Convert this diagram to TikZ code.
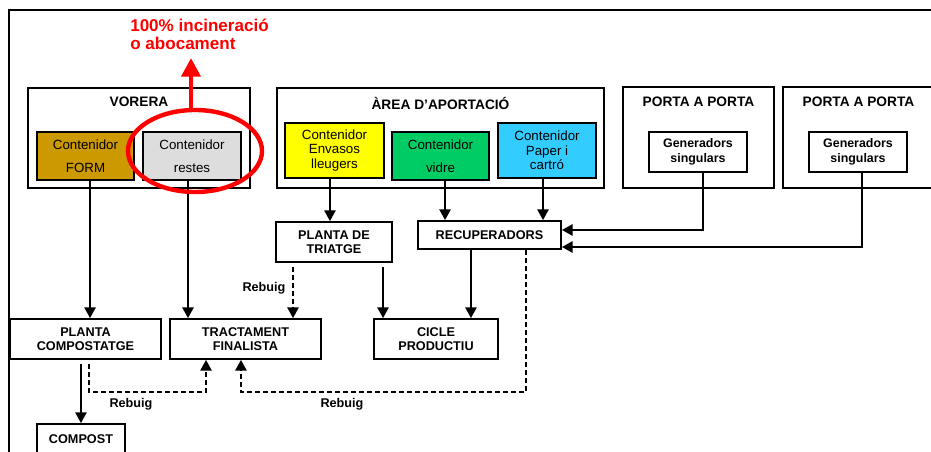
\documentclass[tikz,border=0pt]{standalone}
\usepackage{fontspec}
\setmainfont{Liberation Sans}
\usetikzlibrary{arrows.meta,shapes.geometric}
\definecolor{formc}{HTML}{CC9900}
\definecolor{restc}{HTML}{DDDDDD}
\definecolor{envc}{HTML}{FFFF00}
\definecolor{vidc}{HTML}{00CC66}
\definecolor{papc}{HTML}{33CCFF}
\definecolor{redc}{HTML}{FF0000}
\begin{document}
\begin{tikzpicture}[x=0.75pt,y=-0.75pt,
  box/.style={draw, line width=1.4pt, inner sep=0pt, align=center},
  ttl/.style={inner sep=0pt, font=\fontsize{10.3}{12}\selectfont\bfseries},
  cont/.style={box, font=\fontsize{10}{17.25}\selectfont},
  cont3/.style={box, font=\fontsize{10}{10.9}\selectfont},
  gen/.style={box, font=\fontsize{9.3}{11.25}\selectfont\bfseries},
  plant/.style={box, font=\fontsize{9.5}{10.5}\selectfont\bfseries},
  conn/.style={line width=1.1pt, -{Triangle[length=8pt,width=8.5pt]}},
  dconn/.style={conn, dash pattern=on 3.5pt off 2.5pt},
  reb/.style={inner sep=0pt, font=\fontsize{9.5}{11}\selectfont\bfseries}]
\useasboundingbox (0,0) rectangle (931,452);
% outer frame
\draw[line width=1.5pt] (9,1000) -- (9,10) -- (1000,10);
% VORERA
\node[box, minimum width=166.5pt, minimum height=75pt] (vorera) at (139,138) {};
\node[ttl] (voreratt) at (139,102) {VORERA};
\node[cont, fill=formc, minimum width=72.75pt, minimum height=36pt] (form) at (85.5,156) {Contenidor\\FORM};
\node[cont, fill=restc, minimum width=73.5pt, minimum height=36pt] (restes) at (192,156) {Contenidor\\restes};
% AREA
\node[box, minimum width=245.25pt, minimum height=75pt] (area) at (440.5,138) {};
\node[ttl] (areatt) at (440.5,103) {ÀREA D’APORTACIÓ};
\node[cont3, fill=envc, minimum width=74.25pt, minimum height=41.25pt] (envasos) at (334.5,150.5) {Contenidor\\Envasos\\lleugers};
\node[cont, fill=vidc, minimum width=72.75pt, minimum height=36pt] (vidre) at (440.5,156) {Contenidor\\vidre};
\node[cont3, fill=papc, minimum width=73.5pt, minimum height=41.25pt] (paper) at (547,150.5) {Contenidor\\Paper i\\cartró};
% PORTA A PORTA
\node[box, minimum width=113.25pt, minimum height=75.75pt] (porta1) at (698.5,137.5) {};
\node[ttl] (porta1tt) at (698.5,102) {PORTA A PORTA};
\node[gen, minimum width=73.5pt, minimum height=30pt] (gen1) at (698,152) {Generadors\\singulars};
\node[box, minimum width=113.25pt, minimum height=75.75pt] (porta2) at (858.5,137.5) {};
\node[ttl] (porta2tt) at (858.5,102) {PORTA A PORTA};
\node[gen, minimum width=73.5pt, minimum height=30pt] (gen2) at (858,152) {Generadors\\singulars};
% plants
\node[plant, minimum width=87pt, minimum height=30pt] (triatge) at (334,242) {PLANTA DE\\TRIATGE};
\node[plant, minimum width=107.25pt, minimum height=21pt] (recup) at (489.5,235) {RECUPERADORS};
\node[plant, minimum width=93pt, minimum height=30pt] (cicle) at (436,339) {CICLE\\PRODUCTIU};
\node[plant, minimum width=113.25pt, minimum height=30pt] (tract) at (245.5,339) {TRACTAMENT\\FINALISTA};
\node[plant, minimum width=113.25pt, minimum height=30pt] (compostatge) at (85.5,339) {PLANTA\\COMPOSTATGE};
\node[plant, minimum width=66pt, minimum height=22.5pt] (compost) at (81,439) {COMPOST};
% connectors
\draw[conn] ([xshift=3.4pt]form.south) -- ([xshift=3.4pt]form.south |- compostatge.north);
\draw[conn] ([xshift=-3pt]restes.south) -- ([xshift=-3pt]restes.south |- tract.north);
\draw[conn] ([xshift=-3.4pt]envasos.south) -- ([xshift=-3.4pt]envasos.south |- triatge.north);
\draw[conn] ([xshift=3.4pt]vidre.south) -- ([xshift=3.4pt]vidre.south |- recup.north);
\draw[conn] ([xshift=-3pt]paper.south) -- ([xshift=-3pt]paper.south |- recup.north);
\draw[conn] ([xshift=3.75pt]gen1.south) |- ([yshift=3.75pt]recup.east);
\draw[conn] ([xshift=3pt]gen2.south) |- ([yshift=-9pt]recup.east);
\draw[conn, shorten <=3pt] ([xshift=36.75pt]triatge.south) -- ([xshift=36.75pt]triatge.south |- cicle.north);
\draw[conn] ([xshift=-13.9pt]recup.south) -- ([xshift=-13.9pt]recup.south |- cicle.north);
\draw[dconn, shorten <=3pt] ([xshift=-30.75pt]triatge.south) -- ([xshift=-30.75pt]triatge.south |- tract.north);
\draw[conn, shorten <=3pt] ([xshift=-3.4pt]compostatge.south) -- ([xshift=-3.4pt]compostatge.south |- compost.north);
\draw[dconn, shorten <=3pt] ([xshift=2.6pt]compostatge.south) -- ++(0,32) -| ([xshift=-29.6pt]tract.south);
\draw[dconn] ([xshift=27.4pt]recup.south) -- ++(0,142) -| ([xshift=-3.4pt]tract.south);
% labels
\node[reb] (reb1) at (264,288) {Rebuig};
\node[reb] (reb2) at (131,404) {Rebuig};
\node[reb] (reb3) at (342,404) {Rebuig};
% red highlight
\node[draw=redc, line width=3.3pt, ellipse, minimum width=100.5pt, minimum height=61.5pt, inner sep=0pt] (ring) at (195,151) {};
\coordinate (redtip) at (191,58);
\draw[redc, line width=3.5pt, -{Triangle[length=14pt,width=14pt]}] (ring.north -| redtip) -- (redtip);
\node[anchor=west, align=left, inner sep=0pt, text=redc, font=\fontsize{12.8}{13.5}\selectfont\bfseries] (redtxt) at (130,34) {100\% incineració\\o abocament};
\end{tikzpicture}
\end{document}
